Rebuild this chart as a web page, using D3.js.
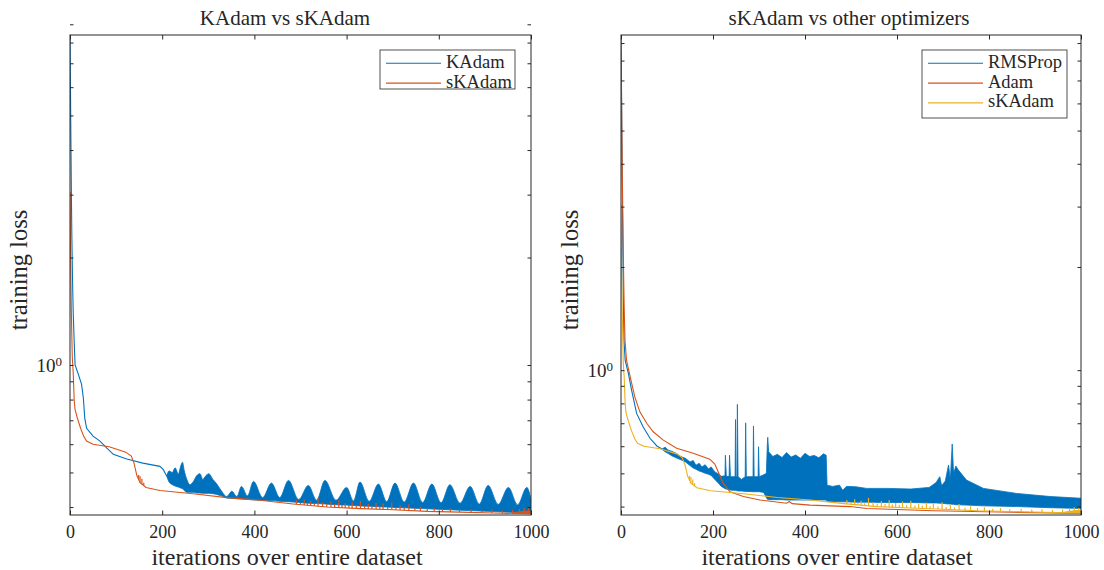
<!DOCTYPE html>
<html>
<head>
<meta charset="utf-8">
<script src="https://cdn.jsdelivr.net/npm/d3@7"></script>
<style>
  body { margin: 0; background: #fff; }
  svg text { font-family: "Liberation Serif", "DejaVu Serif", serif; fill: #262626; }
</style>
</head>
<body>
<div id="chart"></div>
<script>
// ---- data ----
const iterTicks = [0, 200, 400, 600, 800, 1000];
const lossTicks = [0.4, 0.5, 0.6, 0.7, 0.8, 0.9, 1, 2, 3, 4, 5, 6, 7, 8, 9];

// KAdam, smooth part
const kadamIter = [0, 1, 2, 3, 4, 5, 6, 7, 9, 11, 18, 25, 29, 32, 36, 50, 65, 80, 94, 123, 158, 195, 202, 210];
const kadamLoss = [8.3, 6.0, 4.2, 3.0, 2.3, 1.9, 1.6, 1.4, 1.17, 1.0, 0.943, 0.884, 0.808, 0.71, 0.665, 0.632, 0.612, 0.585, 0.562, 0.545, 0.531, 0.52, 0.51, 0.488];
// KAdam, oscillating part (band edges)
const kadamBandIter = [210, 215, 222, 228, 235, 240, 244, 248, 253, 260, 267, 275, 282, 288, 295, 301, 310, 318, 328, 340,
  351, 362, 372, 385, 398, 418, 437, 455, 474, 496, 517, 535, 553, 577, 600, 615, 629, 649, 669, 687, 705, 725, 745, 765,
  785, 805, 824, 846, 868, 888, 907, 929, 951, 971, 991, 1000];
const kadamBandHigh = [0.490, 0.505, 0.500, 0.515, 0.495, 0.520, 0.534, 0.505, 0.480, 0.462, 0.470, 0.490, 0.496, 0.478, 0.490, 0.496, 0.478, 0.465, 0.445, 0.428,
  0.443, 0.428, 0.457, 0.430, 0.472, 0.425, 0.467, 0.425, 0.475, 0.420, 0.460, 0.418, 0.475, 0.418, 0.454, 0.416, 0.470, 0.415, 0.464, 0.414, 0.467, 0.413, 0.467, 0.412,
  0.464, 0.411, 0.462, 0.410, 0.457, 0.408, 0.460, 0.407, 0.454, 0.406, 0.454, 0.420];
const kadamBandLow = [0.488, 0.470, 0.462, 0.458, 0.455, 0.452, 0.450, 0.445, 0.440, 0.440, 0.440, 0.438, 0.438, 0.437, 0.437, 0.437, 0.436, 0.434, 0.430, 0.424,
  0.423, 0.422, 0.421, 0.420, 0.419, 0.418, 0.417, 0.415, 0.414, 0.412, 0.410, 0.409, 0.408, 0.406, 0.405, 0.404, 0.403, 0.402, 0.401, 0.400, 0.399, 0.398, 0.397, 0.396,
  0.395, 0.394, 0.393, 0.392, 0.391, 0.390, 0.389, 0.388, 0.387, 0.386, 0.386, 0.386];

// sKAdam (same run in both panels)
const skadamIter = [0, 1, 2, 3, 4, 5, 7, 9, 11, 16, 23, 30, 36, 50, 85, 121, 133, 139, 145, 152, 165, 195, 267, 340, 412, 484, 557, 629, 701, 774, 846, 918, 1000];
const skadamLoss = [3.05, 2.2, 1.7, 1.4, 1.2, 1.05, 0.95, 0.80, 0.75, 0.71, 0.665, 0.63, 0.612, 0.600, 0.590, 0.570, 0.556, 0.530, 0.490, 0.468, 0.454, 0.445, 0.436, 0.425, 0.418, 0.408, 0.400, 0.396, 0.393, 0.389, 0.387, 0.385, 0.383];
// sKAdam spikes above its curve
const skadamSpikeIter = [149, 152, 156, 160, 491, 500, 508, 515, 522, 530, 538, 548, 557, 566, 574, 583, 590, 597, 605, 612, 621, 630, 639, 647, 655, 664, 672, 679,
  689, 698, 707, 716, 725, 735, 748, 760, 775, 790, 808, 825, 845, 870, 893, 915, 938, 960, 975, 985, 995];
const skadamSpikeLoss = [0.492, 0.488, 0.480, 0.468, 0.418, 0.411, 0.420, 0.410, 0.416, 0.409, 0.424, 0.412, 0.408, 0.415, 0.407, 0.418, 0.406, 0.410, 0.405, 0.414, 0.404, 0.416, 0.403, 0.408, 0.402, 0.411, 0.401, 0.409,
  0.400, 0.412, 0.399, 0.405, 0.398, 0.407, 0.397, 0.401, 0.396, 0.398, 0.394, 0.396, 0.393, 0.394, 0.392, 0.393, 0.391, 0.392, 0.395, 0.398, 0.397];
// thick end of the sKAdam curve
const skadamEndIter = [960, 975, 990, 1000];
const skadamEndHigh = [0.386, 0.389, 0.391, 0.390];
const skadamEndLow = [0.384, 0.383, 0.383, 0.383];

// Adam
const adamIter = [0, 1, 2, 3, 4, 5, 6, 7, 8.7, 12, 20, 30, 41, 56, 70, 92, 121, 157, 193, 204, 211, 222, 237, 266, 302, 360, 366, 372, 411, 498, 534, 679, 850, 1000];
const adamLoss = [8.55, 6.5, 4.8, 3.6, 2.8, 2.2, 1.8, 1.5, 1.22, 1.07, 0.956, 0.836, 0.756, 0.70, 0.661, 0.625, 0.592, 0.572, 0.55, 0.532, 0.506, 0.468, 0.442, 0.428, 0.418, 0.409, 0.414, 0.408, 0.404, 0.400, 0.395, 0.389, 0.385, 0.382];

// RMSProp, smooth part
const rmsIter = [0, 1, 2, 3, 4, 5, 6.5, 9, 16, 23, 34, 48, 63, 78, 90];
const rmsLoss = [9.5, 6.8, 4.6, 3.2, 2.3, 1.65, 1.22, 1.07, 0.978, 0.875, 0.748, 0.684, 0.633, 0.601, 0.588];
// RMSProp, noisy part (band edges)
const rmsBandIter = [90, 96, 102, 110, 120, 130, 140, 150, 157, 163, 170, 176, 183, 190, 196, 204, 212, 218, 226, 227, 229, 235, 236, 238,
  244, 248, 249, 250, 252, 253, 254.5, 262, 270, 271, 272.5, 287, 288, 289.5, 298, 299, 300.5, 310, 316, 318, 319, 321,
  330, 340, 350, 360, 370, 380, 390, 400, 410, 420, 430, 440, 446, 448, 460, 475, 482, 490, 510, 534, 580, 630, 670, 685, 693, 697, 705, 712, 716, 720, 723, 728, 733,
  751, 788, 860, 933, 1000];
const rmsBandHigh = [0.590, 0.596, 0.585, 0.580, 0.572, 0.560, 0.553, 0.540, 0.545, 0.528, 0.535, 0.522, 0.530, 0.515, 0.522, 0.505, 0.498, 0.490, 0.492, 0.565, 0.490, 0.490, 0.565, 0.489,
  0.489, 0.489, 0.718, 0.489, 0.489, 0.795, 0.489, 0.480, 0.489, 0.702, 0.489, 0.489, 0.687, 0.489, 0.489, 0.598, 0.489, 0.495, 0.500, 0.600, 0.637, 0.578,
  0.560, 0.568, 0.556, 0.575, 0.558, 0.566, 0.553, 0.572, 0.560, 0.564, 0.555, 0.570, 0.565, 0.462, 0.458, 0.462, 0.446, 0.458, 0.457, 0.452, 0.452, 0.450, 0.455, 0.470, 0.489, 0.460, 0.475, 0.529, 0.480, 0.609, 0.500, 0.525, 0.512,
  0.478, 0.452, 0.437, 0.428, 0.423];
const rmsBandLow = [0.586, 0.578, 0.572, 0.563, 0.555, 0.548, 0.540, 0.527, 0.518, 0.514, 0.508, 0.505, 0.500, 0.497, 0.493, 0.480, 0.468, 0.458, 0.452, 0.450, 0.450, 0.448, 0.448, 0.447,
  0.446, 0.446, 0.446, 0.445, 0.445, 0.445, 0.444, 0.444, 0.443, 0.443, 0.443, 0.442, 0.442, 0.442, 0.442, 0.442, 0.442, 0.440, 0.425, 0.420, 0.420, 0.419,
  0.419, 0.419, 0.419, 0.418, 0.418, 0.418, 0.418, 0.418, 0.418, 0.418, 0.418, 0.418, 0.418, 0.414, 0.413, 0.413, 0.413, 0.413, 0.412, 0.412, 0.411, 0.411, 0.410, 0.410, 0.409, 0.409, 0.408, 0.407, 0.407, 0.406, 0.406, 0.405, 0.405,
  0.404, 0.402, 0.400, 0.397, 0.395];

const blue = "#0072BD", red = "#D95319", yellow = "#EDB120";
const FONT = '"Liberation Serif", "DejaVu Serif", serif';

// ---- drawing ----
const svg = d3.select("#chart")
  .append("svg")
  .attr("width", 1104)
  .attr("height", 570)
  .attr("font-family", FONT);

const pts = (its, vs) => its.map((it, k) => ({ i: it, v: vs[k] }));
const band = (its, hi, lo) => its.map((it, k) => ({ i: it, hi: hi[k], lo: lo[k] }));

function drawPanel(cfg) {
  const top = 35, bottom = 515;
  const x = d3.scaleLinear().domain([0, 1000]).range([cfg.left, cfg.right]);
  const y = d3.scaleLog().domain(cfg.yDomain).range([bottom, top]);
  const g = svg.append("g");

  g.append("clipPath").attr("id", cfg.id + "-clip")
    .append("rect")
    .attr("x", cfg.left).attr("y", top)
    .attr("width", cfg.right - cfg.left).attr("height", bottom - top);

  const plot = g.append("g").attr("clip-path", `url(#${cfg.id}-clip)`);

  const line = d3.line().x(d => x(d.i)).y(d => y(d.v));

  cfg.series.forEach(s => {
    if (s.band) {
      const area = d3.area()
        .curve(s.smooth ? d3.curveMonotoneX : d3.curveLinear)
        .x(d => x(d.i)).y0(d => y(d.lo)).y1(d => y(d.hi));
      plot.append("path")
        .datum(s.band)
        .attr("fill", s.color)
        .attr("stroke", s.color)
        .attr("stroke-width", 0.8)
        .attr("d", area);
    }
    plot.append("path")
      .datum(s.data)
      .attr("fill", "none")
      .attr("stroke", s.color)
      .attr("stroke-width", 1.1)
      .attr("d", line);
    if (s.spikes) {
      // each spike: a short vertical stroke from the curve up to the read value
      const base = d3.scaleLinear().domain(s.data.map(d => d.i)).range(s.data.map(d => d.v));
      plot.selectAll(null)
        .data(s.spikes)
        .enter()
        .append("line")
        .attr("x1", d => x(d.i)).attr("x2", d => x(d.i))
        .attr("y1", d => y(base(d.i))).attr("y2", d => y(d.v))
        .attr("stroke", s.color)
        .attr("stroke-width", 1.2);
    }
    if (s.endBand) {
      plot.append("path")
        .datum(s.endBand)
        .attr("fill", s.color)
        .attr("d", d3.area().x(d => x(d.i)).y0(d => y(d.lo)).y1(d => y(d.hi)));
    }
  });

  // axes (ticks inside, MATLAB box)
  const xb = g.append("g")
    .attr("transform", `translate(0,${bottom})`)
    .call(d3.axisBottom(x).tickValues(iterTicks).tickFormat(d3.format("d"))
      .tickSizeInner(-4.5).tickSizeOuter(0).tickPadding(10));
  g.append("g")
    .attr("transform", `translate(0,${top})`)
    .call(d3.axisTop(x).tickValues(iterTicks).tickSizeInner(-4.5).tickSizeOuter(0).tickFormat(""));
  const yl = g.append("g")
    .attr("transform", `translate(${cfg.left},0)`)
    .call(d3.axisLeft(y).tickValues(lossTicks).tickSizeInner(-3.5).tickSizeOuter(0).tickPadding(8).tickFormat(""));
  g.append("g")
    .attr("transform", `translate(${cfg.right},0)`)
    .call(d3.axisRight(y).tickValues(lossTicks).tickSizeInner(-3.5).tickSizeOuter(0).tickFormat(""));

  g.selectAll("g").attr("font-family", FONT);
  g.selectAll(".domain").remove();
  g.selectAll(".tick line").attr("stroke", "#262626");
  xb.selectAll("text").attr("font-size", 18).attr("fill", "#262626");

  // 10^0 label
  const t = yl.selectAll(".tick").filter(d => d === 1).select("text")
    .attr("font-size", 19).attr("fill", "#262626").attr("dy", "0.32em");
  t.text("10");
  t.append("tspan").attr("dy", "-0.45em").attr("font-size", 13).text("0");

  g.append("rect")
    .attr("x", cfg.left).attr("y", top)
    .attr("width", cfg.right - cfg.left).attr("height", bottom - top)
    .attr("fill", "none").attr("stroke", "#262626").attr("stroke-width", 1);

  // titles and labels
  g.append("text").attr("x", cfg.titleX).attr("y", 25).attr("text-anchor", "middle")
    .attr("font-size", 21).text(cfg.title);
  g.append("text").attr("x", cfg.labelX).attr("y", 564.5).attr("text-anchor", "middle")
    .attr("font-size", 24).text("iterations over entire dataset");
  g.append("text")
    .attr("transform", `translate(${cfg.left - 43},270) rotate(-90)`)
    .attr("text-anchor", "middle")
    .attr("font-size", 24.5).text("training loss");

  // legend
  const lg = g.append("g");
  lg.append("rect")
    .attr("x", cfg.legend.x).attr("y", 50)
    .attr("width", cfg.legend.w).attr("height", cfg.legend.h)
    .attr("fill", "#fff").attr("stroke", "#262626").attr("stroke-width", 0.8);
  cfg.series.forEach((s, k) => {
    const ly = 63.3 + 19.8 * k;
    lg.append("line")
      .attr("x1", cfg.legend.x + 6).attr("x2", cfg.legend.x + 61)
      .attr("y1", ly).attr("y2", ly)
      .attr("stroke", s.color).attr("stroke-width", 1.1);
    lg.append("text")
      .attr("x", cfg.legend.x + 66).attr("y", ly + 4.5)
      .attr("font-size", 18.5).text(s.name);
  });
}

const skadamSeries = color => ({
  name: "sKAdam", color: color, data: pts(skadamIter, skadamLoss),
  spikes: pts(skadamSpikeIter, skadamSpikeLoss),
  endBand: band(skadamEndIter, skadamEndHigh, skadamEndLow)
});

drawPanel({
  id: "p1", left: 70, right: 531, yDomain: [0.38, 8.4],
  title: "KAdam vs sKAdam", titleX: 285, labelX: 287,
  legend: { x: 380, w: 135, h: 39 },
  series: [
    { name: "KAdam", color: blue, data: pts(kadamIter, kadamLoss), band: band(kadamBandIter, kadamBandHigh, kadamBandLow), smooth: true },
    skadamSeries(red)
  ]
});

drawPanel({
  id: "p2", left: 621, right: 1081, yDomain: [0.378, 9.5],
  title: "sKAdam vs other optimizers", titleX: 849, labelX: 837,
  legend: { x: 922, w: 145, h: 68 },
  series: [
    { name: "RMSProp", color: blue, data: pts(rmsIter, rmsLoss), band: band(rmsBandIter, rmsBandHigh, rmsBandLow) },
    { name: "Adam", color: red, data: pts(adamIter, adamLoss) },
    skadamSeries(yellow)
  ]
});
</script>
</body>
</html>
